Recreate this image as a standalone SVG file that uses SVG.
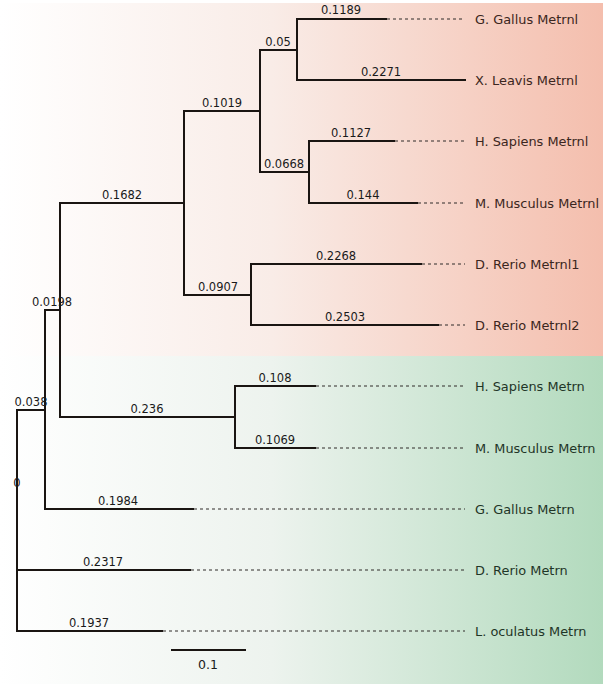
<svg xmlns="http://www.w3.org/2000/svg" width="603" height="686" viewBox="0 0 603 686">
<defs>
<linearGradient id="gp" x1="0" y1="0" x2="1" y2="0">
<stop offset="0" stop-color="#ffffff"/>
<stop offset="0.45" stop-color="#f9ece7"/>
<stop offset="1" stop-color="#f4bead"/>
</linearGradient>
<linearGradient id="gg" x1="0" y1="0" x2="1" y2="0">
<stop offset="0" stop-color="#ffffff"/>
<stop offset="0.45" stop-color="#edf3ee"/>
<stop offset="1" stop-color="#b2dabd"/>
</linearGradient>
<style>
.br{stroke:#1a1512;stroke-width:2;fill:none;stroke-linecap:square}
.da{stroke:#2e2a28;stroke-width:1;stroke-dasharray:3,3;fill:none}
.bl{font-family:"DejaVu Sans",sans-serif;font-size:11.5px;fill:#1a1a1a;text-anchor:middle}
.tp{font-family:"DejaVu Sans",sans-serif;font-size:12.9px;fill:#3b2620}
.tg{font-family:"DejaVu Sans",sans-serif;font-size:12.9px;fill:#1f3527}
</style>
</defs>
<rect x="0" y="0" width="603" height="686" fill="#ffffff"/>
<rect x="0" y="3" width="603" height="353" fill="url(#gp)"/>
<rect x="0" y="356" width="603" height="328" fill="url(#gg)"/>
<g id="connectors">
<path class="br" d="M17,410 V631"/>
<path class="br" d="M17,410 H45"/>
<path class="br" d="M45,310 V509"/>
<path class="br" d="M45,310 H60"/>
<path class="br" d="M60,203 V417"/>
<path class="br" d="M60,203 H184"/>
<path class="br" d="M184,111 V295"/>
<path class="br" d="M184,111 H260"/>
<path class="br" d="M260,50 V172"/>
<path class="br" d="M260,50 H297"/>
<path class="br" d="M297,19 V80"/>
<path class="br" d="M297,19 H386"/>
<path class="br" d="M297,80 H465"/>
<path class="br" d="M260,172 H309"/>
<path class="br" d="M309,141 V203"/>
<path class="br" d="M309,141 H394"/>
<path class="br" d="M309,203 H417"/>
<path class="br" d="M184,295 H251"/>
<path class="br" d="M251,264 V325"/>
<path class="br" d="M251,264 H421"/>
<path class="br" d="M251,325 H438"/>
<path class="br" d="M60,417 H235"/>
<path class="br" d="M235,386 V448"/>
<path class="br" d="M235,386 H315"/>
<path class="br" d="M235,448 H315"/>
<path class="br" d="M45,509 H193"/>
<path class="br" d="M17,570 H190"/>
<path class="br" d="M17,631 H162"/>
<path class="da" d="M387,19 H465"/>
<path class="da" d="M395,141 H465"/>
<path class="da" d="M418,203 H465"/>
<path class="da" d="M422,264 H465"/>
<path class="da" d="M439,325 H465"/>
<path class="da" d="M316,386 H465"/>
<path class="da" d="M316,448 H465"/>
<path class="da" d="M194,509 H465"/>
<path class="da" d="M191,570 H465"/>
<path class="da" d="M163,631 H465"/>
<path class="br" d="M172,650 H245"/>
</g>
<g id="branch-labels">
<text class="bl" x="341" y="14">0.1189</text>
<text class="bl" x="381" y="76">0.2271</text>
<text class="bl" x="278" y="46">0.05</text>
<text class="bl" x="222" y="107">0.1019</text>
<text class="bl" x="351" y="137">0.1127</text>
<text class="bl" x="284" y="168">0.0668</text>
<text class="bl" x="363" y="199">0.144</text>
<text class="bl" x="122" y="199">0.1682</text>
<text class="bl" x="336" y="260">0.2268</text>
<text class="bl" x="218" y="291">0.0907</text>
<text class="bl" x="345" y="321">0.2503</text>
<text class="bl" x="52" y="306">0.0198</text>
<text class="bl" x="275" y="382">0.108</text>
<text class="bl" x="147" y="413">0.236</text>
<text class="bl" x="31" y="406">0.038</text>
<text class="bl" x="275" y="444">0.1069</text>
<text class="bl" x="17" y="487">0</text>
<text class="bl" x="118" y="505">0.1984</text>
<text class="bl" x="103" y="566">0.2317</text>
<text class="bl" x="89" y="627">0.1937</text>
<text class="bl" x="208" y="669" style="font-size:12.5px">0.1</text>
</g>
<g id="n-ggallus-metrnl"><text class="tp" x="475" y="24">G. Gallus Metrnl</text></g>
<g id="n-xleavis-metrnl"><text class="tp" x="475" y="85">X. Leavis Metrnl</text></g>
<g id="n-hsapiens-metrnl"><text class="tp" x="475" y="146">H. Sapiens Metrnl</text></g>
<g id="n-mmusculus-metrnl"><text class="tp" x="475" y="208">M. Musculus Metrnl</text></g>
<g id="n-drerio-metrnl1"><text class="tp" x="475" y="269">D. Rerio Metrnl1</text></g>
<g id="n-drerio-metrnl2"><text class="tp" x="475" y="330">D. Rerio Metrnl2</text></g>
<g id="n-hsapiens-metrn"><text class="tg" x="475" y="391">H. Sapiens Metrn</text></g>
<g id="n-mmusculus-metrn"><text class="tg" x="475" y="453">M. Musculus Metrn</text></g>
<g id="n-ggallus-metrn"><text class="tg" x="475" y="514">G. Gallus Metrn</text></g>
<g id="n-drerio-metrn"><text class="tg" x="475" y="575">D. Rerio Metrn</text></g>
<g id="n-loculatus-metrn"><text class="tg" x="475" y="636">L. oculatus Metrn</text></g>
</svg>
